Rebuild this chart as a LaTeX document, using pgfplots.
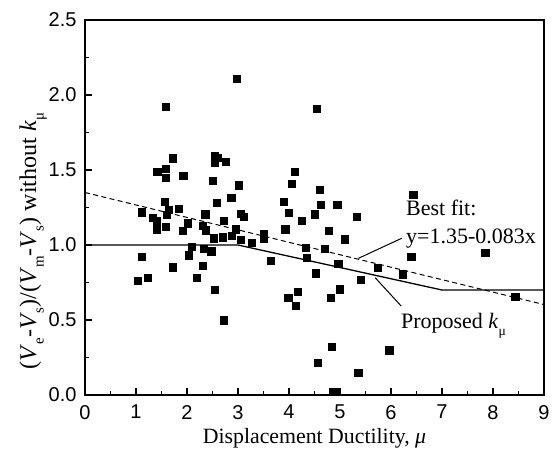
\documentclass[border=0pt]{standalone}
\usepackage{graphicx}
\usepackage{pgfplots}
\pgfplotsset{compat=1.18}
\usepackage{fontspec}
\setmainfont{Liberation Serif}
\newfontfamily\arialfont{Liberation Sans}
\newcommand{\lsub}[1]{\raisebox{-0.32em}{\scalebox{0.62}{#1}}}
\begin{document}
\begin{tikzpicture}
\begin{axis}[
  name=ax,
  scale only axis, width=229.5pt, height=187.5pt,
  xmin=0, xmax=9, ymin=0, ymax=2.5,
  xtick={0,1,2,3,4,5,6,7,8,9},
  ytick={0,0.5,1,1.5,2,2.5},
  minor x tick num=1, minor y tick num=1,
  tick align=inside, xtick pos=bottom, ytick pos=left,
  major tick length=3.5pt, minor tick length=2pt,
  axis line style={line width=0.8pt},
  every tick/.style={line width=0.7pt, black},
  tick label style={font=\arialfont\fontsize{10}{12}\selectfont, /pgf/number format/assume math mode=true},
  xticklabel style={yshift=-1.5pt},
  yticklabel style={xshift=-0.7pt, /pgf/number format/.cd, fixed, fixed zerofill, precision=1},
  xlabel={Displacement Ductility, \textit{μ}},
  every axis x label/.style={at={(axis description cs:0.5,-0.128)}, anchor=base, font=\fontsize{10.9}{13}\selectfont},
  ylabel={(\textit{V}\lsub{e}-\textit{V}\lsub{s})/(\textit{V}\lsub{m}-\textit{V}\lsub{s}) without \textit{k}\lsub{μ}},
  every axis y label/.style={at={(axis description cs:-0.113,0.41)}, rotate=90, anchor=center, font=\fontsize{12}{14}\selectfont},
  clip=false,
]
\addplot[only marks, mark=square*, mark size=1.8pt, black] coordinates {
(2.98,2.107) (1.59,1.92) (4.54,1.91) (1.72,1.578) (1.42,1.487) (1.59,1.507)
(1.59,1.45) (1.93,1.462) (2.55,1.595) (2.60,1.58) (2.54,1.549) (2.76,1.556)
(2.50,1.43) (3.02,1.398) (2.87,1.313) (2.59,1.282) (1.56,1.285) (4.12,1.489)
(4.06,1.407) (3.90,1.287) (4.61,1.368) (4.62,1.265) (4.95,1.267) (6.44,1.333)
(1.65,1.233) (1.61,1.20) (1.84,1.24) (1.12,1.218) (1.33,1.182) (1.41,1.16)
(1.41,1.104) (1.59,1.12) (2.01,1.144) (1.92,1.096) (2.36,1.204) (2.31,1.127)
(2.37,1.098) (2.52,1.044) (2.71,1.051) (2.72,1.16) (2.88,1.06) (2.96,1.104)
(3.05,1.207) (3.11,1.187) (3.06,1.036) (3.27,1.016) (3.50,1.073) (3.51,1.04)
(3.65,0.894) (2.09,0.987) (2.04,0.931) (2.33,0.973) (2.48,0.958) (1.11,0.922)
(1.73,0.851) (2.31,0.86) (1.04,0.762) (1.24,0.78) (2.20,0.78) (2.55,0.70)
(2.72,0.498) (3.99,0.649) (4.18,0.689) (4.13,0.593) (4.33,0.982) (4.35,0.916)
(4.53,0.811) (4.56,0.216) (4.00,1.215) (4.25,1.162) (3.93,1.104) (4.51,1.204)
(5.33,1.187) (4.78,1.096) (5.09,1.038) (4.71,0.976) (4.97,0.873) (5.75,0.847)
(6.40,0.922) (5.41,0.767) (6.24,0.804) (5.00,0.704) (4.82,0.649) (4.84,0.322)
(5.97,0.298) (5.36,0.149) (4.86,0.02) (4.93,0.02) (7.85,0.949) (8.44,0.656)
};
\addplot[black, line width=0.5pt, dash pattern=on 2.5pt off 1.7pt] coordinates {(0,1.35) (9,0.603)};
\addplot[black, line width=0.65pt] coordinates {(0,1) (3,1) (7,0.7) (9,0.7)};
\draw[line width=0.5pt] (axis cs:5.36,0.911) -- (axis cs:6.21,1.045);
\draw[line width=0.5pt] (axis cs:5.69,0.782) -- (axis cs:6.20,0.593);
\node[anchor=base west, inner sep=0pt, font=\fontsize{11}{13}\selectfont] at (axis cs:6.29,1.2) {Best fit:};
\node[anchor=base west, inner sep=0pt, font=\fontsize{11}{13}\selectfont] at (axis cs:6.29,1.013) {y=1.35-0.083x};
\node[anchor=base west, inner sep=0pt, font=\fontsize{11}{13}\selectfont] at (axis cs:6.19,0.445) {Proposed \textit{k}\lsub{μ}};
\end{axis}
\pgfresetboundingbox
\path ([xshift=-42.5pt,yshift=-27.5pt]ax.south west) rectangle ([xshift=4pt,yshift=10pt]ax.north east);
\end{tikzpicture}
\end{document}
